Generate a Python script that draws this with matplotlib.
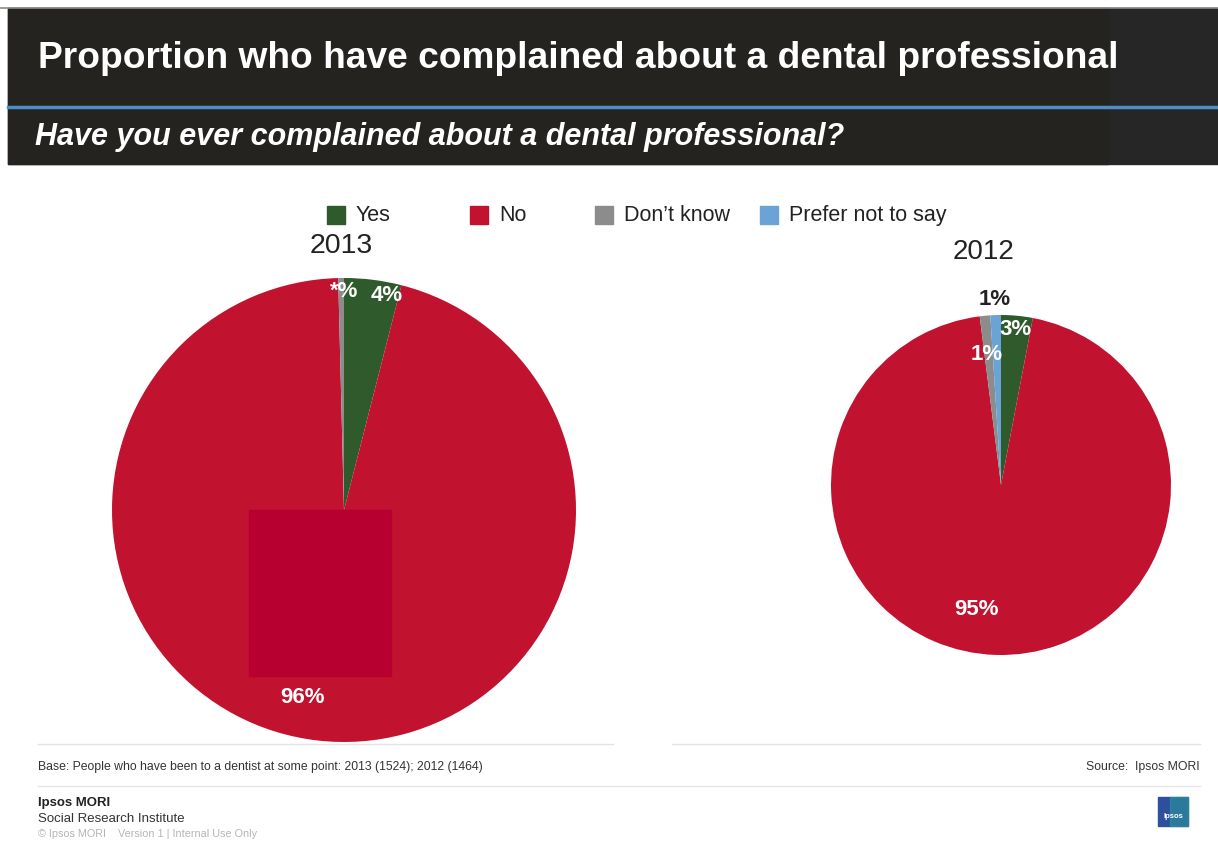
import matplotlib
matplotlib.use("Agg")
import matplotlib.pyplot as plt
from matplotlib.patches import Rectangle

plt.rcParams['font.family'] = ['Liberation Sans', 'DejaVu Sans']

# ---- data ----
categories = ["Yes", "No", "Don\u2019t know", "Prefer not to say"]
colors = ["#2f5a2b", "#c1122f", "#8c8c8c", "#6aa3d5"]
values_2013 = [4, 96, 0.4, 0]
labels_2013 = ["4%", "96%", "*%", ""]
values_2012 = [3, 95, 1, 1]
labels_2012 = ["3%", "95%", "1%", "1%"]

title = "Proportion who have complained about a dental professional"
subtitle = "Have you ever complained about a dental professional?"
base_note = "Base: People who have been to a dentist at some point: 2013 (1524); 2012 (1464)"
source_note = "Source:  Ipsos MORI"

W, H = 1218, 841
fig = plt.figure(figsize=(W / 100, H / 100), dpi=100)
bg = fig.add_axes([0, 0, 1, 1])
bg.set_xlim(0, W)
bg.set_ylim(H, 0)
bg.axis("off")

# header bands
bg.add_patch(Rectangle((8, 8), W - 8, 156, color="#262626", zorder=1))
bg.add_patch(Rectangle((8, 8), 1100, 156, color="#24231f", zorder=1))
bg.plot([0, W], [8, 8], color="#8a8a8a", lw=1.2, zorder=2)
bg.plot([8, W], [107, 107], color="#4b8fc6", lw=2.5, zorder=2)
bg.text(38, 58, title, color="white", fontsize=26.7, fontweight="bold",
        va="center", ha="left", zorder=3)
bg.text(35, 137, subtitle, color="white", fontsize=22, fontweight="bold",
        style="italic", va="center", ha="left", zorder=3)

# legend
leg_x = [327, 470, 595, 760]
for x, cat, col in zip(leg_x, categories, colors):
    bg.add_patch(Rectangle((x, 206), 18, 18, color=col, zorder=3))
    bg.text(x + 29, 215, cat, fontsize=15.5, color="#222222",
            va="center", ha="left", zorder=3)

bg.text(341, 246, "2013", fontsize=20.5, color="#222222", ha="center", va="center")
bg.text(984, 252, "2012", fontsize=20, color="#222222", ha="center", va="center")


def pie_axes(cx, cy, r):
    return fig.add_axes([(cx - r) / W, (H - cy - r) / H, 2 * r / W, 2 * r / H])


def draw_pie(ax, values, labels, label_pos, label_colors):
    ax.pie(values, colors=colors, startangle=90, counterclock=False,
           wedgeprops=dict(linewidth=0))
    for lab, (lx, ly), lc in zip(labels, label_pos, label_colors):
        if lab:
            ax.text(lx, ly, lab, color=lc, fontsize=16, fontweight="bold",
                    ha="center", va="center", zorder=10)
    ax.set_xlim(-1, 1)
    ax.set_ylim(-1, 1)
    ax.set_aspect("equal")
    ax.axis("off")


ax13 = pie_axes(344, 510, 232)
draw_pie(ax13, values_2013, labels_2013,
         [(0.185, 0.925), (-0.177, -0.81), (0.0, 0.94), (0, 0)],
         ["white", "white", "white", "white"])

# darker block inside the 2013 pie
ax13.add_patch(Rectangle((-0.409, -0.716), 0.612, 0.716, color="#b80030", zorder=5))

ax12 = pie_axes(1001, 485, 170)
draw_pie(ax12, values_2012, labels_2012,
         [(0.085, 0.915), (-0.147, -0.735), (-0.085, 0.77), (-0.035, 1.094)],
         ["white", "white", "white", "#222222"])

# footer
bg.plot([38, 613], [744, 744], color="#e2e2e2", lw=1)
bg.plot([672, 1200], [744, 744], color="#e2e2e2", lw=1)
bg.plot([38, 1200], [786, 786], color="#e6e6e6", lw=1)
bg.text(38, 767, base_note, fontsize=8.8, color="#333333", va="center", ha="left")
bg.text(1200, 767, source_note, fontsize=8.8, color="#333333", va="center", ha="right")
bg.text(38, 803, "Ipsos MORI", fontsize=9.5, fontweight="bold", color="#222222",
        va="center", ha="left")
bg.text(38, 819, "Social Research Institute", fontsize=9.5, color="#333333",
        va="center", ha="left")
bg.text(38, 834, "\u00a9 Ipsos MORI    Version 1 | Internal Use Only", fontsize=7.8,
        color="#b5b5b5", va="center", ha="left")

# logo
bg.add_patch(Rectangle((1158, 797), 30, 29, color="#2d4f9e", zorder=3))
bg.add_patch(Rectangle((1170, 797), 18, 29, color="#2a9d9a", alpha=0.55, zorder=4))
bg.text(1173, 817, "Ipsos", fontsize=5.5, color="white", fontweight="bold",
        ha="center", va="center", zorder=5)

fig.savefig("out.png", dpi=100)
